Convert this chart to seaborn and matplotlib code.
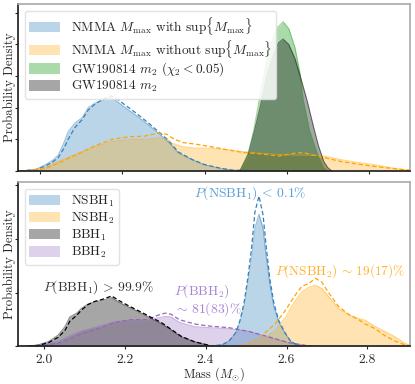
import numpy as np
import pandas as pd
import matplotlib
matplotlib.use('Agg')
import matplotlib.pyplot as plt
import seaborn as sns

sns.set_theme(style='white')
plt.rcParams['font.family'] = 'serif'
plt.rcParams['font.serif'] = ['cmr10', 'DejaVu Serif']
plt.rcParams['mathtext.fontset'] = 'cm'
plt.rcParams['axes.formatter.use_mathtext'] = True

# ------------------------------------------------------------
# densities (mass, density)
# ------------------------------------------------------------
# top panel
top_blue_m = [1.95, 1.963, 1.99, 2.012, 2.03, 2.044, 2.058, 2.068, 2.085, 2.102, 2.117, 2.134, 2.151,
              2.17, 2.182, 2.207, 2.231, 2.263, 2.287, 2.311, 2.336, 2.37, 2.40, 2.44, 2.47, 2.535]
top_blue_fill = [0.0, 0.01, 0.05, 0.19, 0.33, 0.5, 0.9, 1.24, 1.52, 1.68, 2.0, 2.15, 2.22,
                 2.32, 2.25, 2.0, 1.78, 1.46, 1.2, 0.93, 0.57, 0.35, 0.19, 0.07, 0.02, 0.0]
top_blue_dash = [0.0, 0.01, 0.04, 0.15, 0.28, 0.42, 0.72, 1.0, 1.38, 1.62, 1.93, 2.12, 2.25,
                 2.37, 2.33, 2.08, 1.85, 1.52, 1.25, 0.98, 0.6, 0.36, 0.2, 0.08, 0.02, 0.0]

top_orange_m = [1.95, 1.975, 2.012, 2.053, 2.095, 2.134, 2.175, 2.217, 2.255, 2.29, 2.31, 2.32, 2.345,
                2.376, 2.414, 2.45, 2.494, 2.535, 2.58, 2.62, 2.64, 2.68, 2.698, 2.734, 2.776, 2.815,
                2.854, 2.9]
top_orange_fill = [0.0, 0.02, 0.1, 0.35, 0.57, 0.77, 0.93, 1.0, 1.0, 1.05, 1.0, 0.88, 0.77,
                   0.72, 0.72, 0.68, 0.61, 0.56, 0.52, 0.5, 0.5, 0.49, 0.45, 0.35, 0.26, 0.19,
                   0.1, 0.01]
top_orange_dash = [0.0, 0.01, 0.07, 0.3, 0.55, 0.8, 1.0, 1.08, 1.1, 1.2, 1.15, 1.05, 0.9,
                   0.85, 0.77, 0.68, 0.58, 0.54, 0.47, 0.56, 0.58, 0.45, 0.4, 0.29, 0.21, 0.14,
                   0.08, 0.02]

gw_chi_m = [2.48, 2.487, 2.506, 2.52, 2.533, 2.547, 2.56, 2.575, 2.591, 2.605, 2.62, 2.632, 2.64,
            2.655, 2.674, 2.69, 2.70]
gw_chi_fill = [0.0, 0.02, 0.56, 1.3, 2.25, 3.2, 3.95, 4.5, 4.72, 4.5, 3.9, 3.1, 2.25,
               1.3, 0.56, 0.1, 0.0]

gw_m = [2.48, 2.487, 2.506, 2.52, 2.535, 2.55, 2.565, 2.58, 2.591, 2.605, 2.62, 2.635, 2.65,
        2.665, 2.677, 2.69, 2.70, 2.71]
gw_fill = [0.0, 0.02, 0.5, 1.2, 2.0, 2.9, 3.6, 4.05, 4.17, 4.0, 3.55, 2.9, 2.2,
           1.4, 0.8, 0.3, 0.1, 0.0]

# bottom panel
nsbh1_m = [2.41, 2.416, 2.441, 2.458, 2.475, 2.485, 2.495, 2.505, 2.514, 2.522, 2.532, 2.542, 2.55,
           2.559, 2.569, 2.581, 2.596, 2.61, 2.623, 2.635]
nsbh1_fill = [0.0, 0.01, 0.03, 0.1, 0.25, 0.45, 0.74, 1.2, 1.67, 2.2, 2.46, 2.2, 1.67,
              1.15, 0.74, 0.45, 0.25, 0.1, 0.04, 0.0]
nsbh1_dash = [0.0, 0.01, 0.03, 0.1, 0.26, 0.48, 0.8, 1.3, 1.85, 2.5, 2.8, 2.45, 1.85,
              1.25, 0.8, 0.48, 0.26, 0.1, 0.04, 0.0]

nsbh2_m = [2.47, 2.499, 2.532, 2.573, 2.598, 2.622, 2.638, 2.655, 2.671, 2.687, 2.704, 2.728, 2.753,
           2.778, 2.794, 2.819, 2.843, 2.868, 2.892, 2.906]
nsbh2_fill = [0.0, 0.01, 0.09, 0.31, 0.55, 0.86, 1.02, 1.1, 1.14, 1.08, 0.93, 0.71, 0.59,
              0.52, 0.49, 0.37, 0.28, 0.18, 0.06, 0.02]
nsbh2_dash = [0.0, 0.03, 0.15, 0.43, 0.68, 0.96, 1.12, 1.17, 1.27, 1.2, 1.0, 0.75, 0.6,
              0.5, 0.42, 0.33, 0.2, 0.1, 0.03, 0.01]

bbh1_m = [1.945, 1.955, 1.987, 2.012, 2.036, 2.053, 2.065, 2.082, 2.094, 2.11, 2.127, 2.147, 2.168,
          2.192, 2.217, 2.241, 2.266, 2.29, 2.315, 2.34, 2.372, 2.404, 2.416]
bbh1_fill = [0.0, 0.0, 0.03, 0.09, 0.21, 0.37, 0.55, 0.62, 0.71, 0.79, 0.83, 0.86, 0.91,
             0.8, 0.71, 0.62, 0.52, 0.43, 0.31, 0.18, 0.09, 0.03, 0.0]
bbh1_dash = [0.0, 0.0, 0.02, 0.07, 0.17, 0.3, 0.47, 0.58, 0.68, 0.78, 0.84, 0.88, 0.94,
             0.83, 0.73, 0.64, 0.54, 0.45, 0.32, 0.19, 0.09, 0.03, 0.0]

bbh2_m = [1.95, 1.986, 2.036, 2.069, 2.094, 2.135, 2.176, 2.217, 2.257, 2.282, 2.30, 2.315, 2.335,
          2.372, 2.409, 2.458, 2.507, 2.556, 2.606, 2.655, 2.68]
bbh2_fill = [0.0, 0.01, 0.09, 0.21, 0.29, 0.37, 0.46, 0.49, 0.49, 0.53, 0.56, 0.55, 0.45,
             0.37, 0.35, 0.33, 0.28, 0.17, 0.07, 0.01, 0.0]
bbh2_dash = [0.0, 0.01, 0.06, 0.15, 0.24, 0.33, 0.45, 0.5, 0.5, 0.58, 0.62, 0.6, 0.5,
             0.42, 0.38, 0.35, 0.28, 0.18, 0.07, 0.01, 0.0]

mass_ticks = [2.0, 2.2, 2.4, 2.6, 2.8]


def draw(ax, m, fill, color, alpha, label, dash=None, dash_color=None):
    ax.fill_between(m, 0, fill, color=color, alpha=alpha, lw=0, label=label)
    sns.lineplot(x=m, y=fill, ax=ax, color=color, alpha=0.45, lw=0.8, sort=False)
    if dash is not None:
        sns.lineplot(x=m, y=dash, ax=ax, color=dash_color or color, lw=0.9,
                     linestyle=(0, (3.5, 2)), sort=False)


fig = plt.figure(figsize=(4.15, 3.84), dpi=100)
ax1 = fig.add_axes([0.0434, 0.555, 0.9446, 0.4346])
ax2 = fig.add_axes([0.0434, 0.0977, 0.9446, 0.4283])

leg_kw = dict(loc='upper left', fontsize=9.6, handlelength=2.3, handleheight=0.8,
              handletextpad=0.8, borderpad=0.35, framealpha=0.85, edgecolor='#dddddd')

# ---- top panel
draw(ax1, top_blue_m, top_blue_fill, 'tab:blue', 0.3,
     r'NMMA $M_{\rm max}$ with $\mathrm{sup}\{M_{\rm max}\}$', top_blue_dash, '#3b7fb8')
draw(ax1, top_orange_m, top_orange_fill, 'orange', 0.3,
     r'NMMA $M_{\rm max}$ without $\mathrm{sup}\{M_{\rm max}\}$', top_orange_dash)
draw(ax1, gw_chi_m, gw_chi_fill, 'tab:green', 0.4, r'GW190814 $m_2$ ($\chi_2 < 0.05$)')
draw(ax1, gw_m, gw_fill, 'black', 0.35, r'GW190814 $m_2$')
ax1.set_xlim(1.946, 2.90)
ax1.set_ylim(0, 5.28)
ax1.set_xticks(mass_ticks)
ax1.set_xticklabels([])
ax1.set_yticks(range(6))
ax1.set_yticklabels([])
ax1.set_xlabel('')
ax1.set_ylabel('Probability Density', fontsize=9.2)
ax1.yaxis.set_label_coords(-0.004, 0.5)
ax1.legend(labelspacing=0.05, **leg_kw)

# ---- bottom panel (purple drawn under black)
draw(ax2, bbh2_m, bbh2_fill, 'tab:purple', 0.3, r'BBH$_2$', bbh2_dash)
draw(ax2, bbh1_m, bbh1_fill, 'black', 0.35, r'BBH$_1$', bbh1_dash)
draw(ax2, nsbh1_m, nsbh1_fill, 'tab:blue', 0.3, r'NSBH$_1$', nsbh1_dash, '#3b7fb8')
draw(ax2, nsbh2_m, nsbh2_fill, 'orange', 0.3, r'NSBH$_2$', nsbh2_dash)
ax2.set_xlim(1.937, 2.905)
ax2.set_ylim(0, 3.06)
ax2.set_xticks(mass_ticks)
ax2.set_xticklabels([f'{t:.1f}' for t in mass_ticks])
ax2.set_yticks(range(4))
ax2.set_yticklabels([])
ax2.set_xlabel(r'Mass ($M_{\odot}$)', fontsize=9.0)
ax2.xaxis.set_label_coords(0.5, -0.112)
ax2.set_ylabel('Probability Density', fontsize=9.2)
ax2.yaxis.set_label_coords(-0.004, 0.5)
handles, labels = ax2.get_legend_handles_labels()
order = [2, 3, 1, 0]
ax2.legend([handles[i] for i in order], [labels[i] for i in order],
           labelspacing=0.15, **leg_kw)

ax2.text(2.51, 2.86, r'$P(\mathrm{NSBH}_1)\,<\,0.1\%$', color='#5a9fd6', fontsize=9.8,
         ha='center', va='center')
ax2.text(2.732, 1.41, r'$P(\mathrm{NSBH}_2)\,\sim\,19(17)\%$', color='#ffb22e', fontsize=9.6,
         ha='center', va='center')
ax2.text(2.136, 1.11, r'$P(\mathrm{BBH}_1)\,>\,99.9\%$', color='#333333', fontsize=9.8,
         ha='center', va='center')
ax2.text(2.323, 0.87, '$P(\\mathrm{BBH}_2)$\n$\\sim\\,81(83)\\%$', color='#a884d4', fontsize=9.8,
         ha='left', va='center', linespacing=1.0)

for ax in (ax1, ax2):
    ax.tick_params(axis='both', which='both', direction='out', length=2.2, width=0.8,
                   labelsize=9.8, pad=3, left=True, bottom=True)
    for side in ('left', 'bottom'):
        ax.spines[side].set_color('#222222')
    for side in ('top', 'right'):
        ax.spines[side].set_color('#aaaaaa')
        ax.spines[side].set_linewidth(1.2)

plt.savefig('out.png', dpi=100)
plt.close()
